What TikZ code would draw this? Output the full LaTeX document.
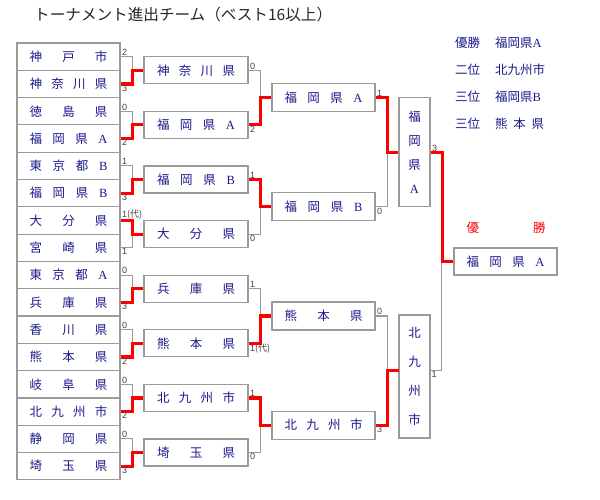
\documentclass[tikz,border=0pt]{standalone}
\usepackage{fontspec}
\newfontfamily\jp{Noto Sans CJK JP}
\newfontfamily\lat{Liberation Serif}
\newfontfamily\numf{Liberation Sans}
\definecolor{navy}{HTML}{1A1A8C}
\definecolor{boxgray}{HTML}{9A9A9A}
\definecolor{linegray}{HTML}{9A9A9A}
\definecolor{winred}{HTML}{FF0000}
\definecolor{scoregray}{HTML}{404040}
\newcommand\tthree[3]{\hbox to 78pt{#1\hfill#2\hfill#3}}
\newcommand\tfour[4]{\hbox to 78pt{#1\hfill#2\hfill#3\hfill#4}}
\tikzset{
  teambox/.style={draw=boxgray, line width=1.2pt, fill=white, inner sep=0pt,
    text=navy, font=\jp\fontsize{12.5}{13}\selectfont},
  leftbox/.style={teambox, minimum width=103pt, minimum height=27.3pt},
  midbox/.style={teambox, minimum width=104pt, minimum height=27pt},
  vbox/.style={teambox, minimum width=31pt, align=center},
  conn/.style={draw=linegray, line width=1.1pt},
  winline/.style={draw=winred, line width=3.2pt},
  scoretop/.style={anchor=south west, inner sep=0.8pt, xshift=0.6pt, text=scoregray, font=\numf\fontsize{9}{9}\selectfont},
  scorebot/.style={anchor=north west, inner sep=0.8pt, xshift=0.6pt, text=scoregray, font=\numf\fontsize{9}{9}\selectfont},
  legend/.style={anchor=west, inner sep=0pt, text=navy, font=\jp\fontsize{12.5}{13}\selectfont},
}
\begin{document}
\begin{tikzpicture}[x=1pt, y=-1pt]
\useasboundingbox (0,0) rectangle (600,500);
% title
\node[anchor=west, inner sep=0pt, font=\jp\fontsize{15.6}{16}\selectfont, text=black!85] (title) at (34,15) {トーナメント進出チーム（ベスト16以上）};
% left column
\node[leftbox] (L0)  at (68.5, 56.65)  {\tthree{神}{戸}{市}};
\node[leftbox] (L1)  at (68.5, 83.95)  {\tfour{神}{奈}{川}{県}};
\node[leftbox] (L2)  at (68.5, 111.25) {\tthree{徳}{島}{県}};
\node[leftbox] (L3)  at (68.5, 138.55) {\tfour{福}{岡}{県}{\lat A}};
\node[leftbox] (L4)  at (68.5, 165.85) {\tfour{東}{京}{都}{\lat B}};
\node[leftbox] (L5)  at (68.5, 193.15) {\tfour{福}{岡}{県}{\lat B}};
\node[leftbox] (L6)  at (68.5, 220.45) {\tthree{大}{分}{県}};
\node[leftbox] (L7)  at (68.5, 247.75) {\tthree{宮}{崎}{県}};
\node[leftbox] (L8)  at (68.5, 275.05) {\tfour{東}{京}{都}{\lat A}};
\node[leftbox] (L9)  at (68.5, 302.35) {\tthree{兵}{庫}{県}};
\node[leftbox] (L10) at (68.5, 329.65) {\tthree{香}{川}{県}};
\node[leftbox] (L11) at (68.5, 356.95) {\tthree{熊}{本}{県}};
\node[leftbox] (L12) at (68.5, 384.25) {\tthree{岐}{阜}{県}};
\node[leftbox] (L13) at (68.5, 411.55) {\tfour{北}{九}{州}{市}};
\node[leftbox] (L14) at (68.5, 438.85) {\tthree{静}{岡}{県}};
\node[leftbox] (L15) at (68.5, 466.15) {\tthree{埼}{玉}{県}};
% round 2
\node[midbox] (M0) at (196, 70.3)  {\tfour{神}{奈}{川}{県}};
\node[midbox] (M1) at (196, 124.9) {\tfour{福}{岡}{県}{\lat A}};
\node[midbox] (M2) at (196, 179.5) {\tfour{福}{岡}{県}{\lat B}};
\node[midbox] (M3) at (196, 234.1) {\tthree{大}{分}{県}};
\node[midbox] (M4) at (196, 288.7) {\tthree{兵}{庫}{県}};
\node[midbox] (M5) at (196, 343.3) {\tthree{熊}{本}{県}};
\node[midbox] (M6) at (196, 397.9) {\tfour{北}{九}{州}{市}};
\node[midbox] (M7) at (196, 452.5) {\tthree{埼}{玉}{県}};
% round 3
\node[midbox, minimum width=103pt, minimum height=28pt] (Q0) at (323.5, 97.6)  {\tfour{福}{岡}{県}{\lat A}};
\node[midbox, minimum width=103pt, minimum height=28pt] (Q1) at (323.5, 206.8) {\tfour{福}{岡}{県}{\lat B}};
\node[midbox, minimum width=103pt, minimum height=28pt] (Q2) at (323.5, 316)   {\tthree{熊}{本}{県}};
\node[midbox, minimum width=103pt, minimum height=28pt] (Q3) at (323.5, 425.2) {\tfour{北}{九}{州}{市}};
% semifinal boxes
\node[vbox, minimum height=109.2pt, font=\jp\fontsize{12.5}{24}\selectfont] (S0) at (414.5, 152.2) {福\\岡\\県\\{\lat A}};
\node[vbox, minimum height=123pt, font=\jp\fontsize{12.5}{29}\selectfont] (S1) at (414.5, 376.5) {北\\九\\州\\市};
\coordinate (S1L) at (399, 370.6);
\coordinate (S1R) at (430, 370.6);
% final
\node[midbox, minimum width=103pt, minimum height=27pt] (F) at (505.5, 261.4) {\tfour{福}{岡}{県}{\lat A}};
\node[inner sep=0pt, text=winred, font=\jp\fontsize{12.5}{13}\selectfont] (champ) at (506, 228) {\hbox to 79pt{優\hfill 勝}};
% legend
\node[legend] (g1a) at (455, 43)  {優勝};
\node[legend] (g1b) at (495, 43)  {福岡県{\lat A}};
\node[legend] (g2a) at (455, 69.5)  {二位};
\node[legend] (g2b) at (495, 69.5)  {北九州市};
\node[legend] (g3a) at (455, 97)  {三位};
\node[legend] (g3b) at (495, 97)  {福岡県{\lat B}};
\node[legend] (g4a) at (455, 124) {三位};
\node[legend] (g4b) at (495, 124) {\hbox to 49pt{熊\hfill 本\hfill 県}};
% connectors round 1
\foreach \k in {0,...,7}{
  \pgfmathtruncatemacro\a{2*\k}
  \pgfmathtruncatemacro\b{2*\k+1}
  \draw[conn] (L\a.east) -- ++(12,0) |- (M\k.west);
  \draw[conn] (L\b.east) -- ++(12,0) |- (M\k.west);
}
\foreach \w/\k in {1/0,3/1,5/2,6/3,9/4,11/5,13/6,15/7}{
  \draw[winline] (L\w.east) -- ++(12,0) |- (M\k.west);
}
% connectors round 2
\foreach \m in {0,...,3}{
  \pgfmathtruncatemacro\a{2*\m}
  \pgfmathtruncatemacro\b{2*\m+1}
  \draw[conn] (M\a.east) -- ++(11.5,0) |- (Q\m.west);
  \draw[conn] (M\b.east) -- ++(11.5,0) |- (Q\m.west);
}
\foreach \w/\m in {1/0,2/1,5/2,6/3}{
  \draw[winline] (M\w.east) -- ++(11.5,0) |- (Q\m.west);
}
% connectors round 3
\draw[conn] (Q0.east) -- ++(12,0) |- (S0.west);
\draw[conn] (Q1.east) -- ++(12,0) |- (S0.west);
\draw[conn] (Q2.east) -- ++(12,0) |- (S1L);
\draw[conn] (Q3.east) -- ++(12,0) |- (S1L);
\draw[winline] (Q0.east) -- ++(12,0) |- (S0.west);
\draw[winline] (Q3.east) -- ++(12,0) |- (S1L);
% final connectors
\draw[conn] (S0.east) -- ++(11.5,0) |- (F.west);
\draw[conn] (S1R) -- ++(11.5,0) |- (F.west);
\draw[winline] (S0.east) -- ++(11.5,0) |- (F.west);
% scores round 1
\foreach \i/\s/\p in {0/2/scoretop,1/3/scorebot,2/0/scoretop,3/2/scorebot,4/1/scoretop,5/3/scorebot,7/1/scorebot,8/0/scoretop,9/3/scorebot,10/0/scoretop,11/2/scorebot,12/0/scoretop,13/2/scorebot,14/0/scoretop,15/3/scorebot}{
  \node[\p] (sL\i) at (L\i.east) {\s};
}
\node[scoretop] (sL6) at (L6.east) {1{\jp(代)}};
% scores round 2
\foreach \i/\s/\p in {0/0/scoretop,1/2/scorebot,2/1/scoretop,3/0/scorebot,4/1/scoretop,6/1/scoretop,7/0/scorebot}{
  \node[\p] (sM\i) at (M\i.east) {\s};
}
\node[scorebot] (sM5) at (M5.east) {1{\jp(代)}};
% scores round 3
\node[scoretop] (sQ0) at (Q0.east) {1};
\node[scorebot] (sQ1) at (Q1.east) {0};
\node[scoretop] (sQ2) at (Q2.east) {0};
\node[scorebot] (sQ3) at (Q3.east) {3};
% scores semifinal
\node[scoretop] (sS0) at (S0.east) {3};
\node[scorebot] (sS1) at (S1R) {1};
\end{tikzpicture}
\end{document}
